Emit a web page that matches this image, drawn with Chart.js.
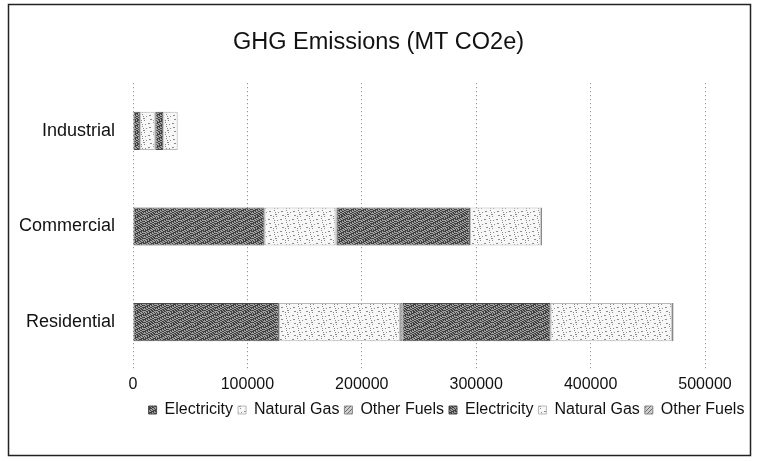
<!DOCTYPE html>
<html>
<head>
<meta charset="utf-8">
<title>GHG Emissions</title>
<script src="https://cdn.jsdelivr.net/npm/chart.js@4/dist/chart.umd.min.js"></script>
<style>
  body { margin: 0; background: #fff; }
  canvas { display: block; }
</style>
</head>
<body>
<canvas id="ghgChart" width="758" height="461"></canvas>
<script>
// Sectors and emissions (MT CO2e), two sets of fuel series
const sectors = ["Industrial", "Commercial", "Residential"];
const seriesNames = ["Electricity", "Natural Gas", "Other Fuels", "Electricity", "Natural Gas", "Other Fuels"];
const electricityA = [6000, 115000, 127500];
const naturalGasA = [13000, 62000, 106000];
const otherFuelsA = [500, 1000, 2000];
const electricityB = [7000, 116500, 129500];
const naturalGasB = [12500, 62000, 106000];
const otherFuelsB = [500, 1000, 1500];
const xTicks = [0, 100000, 200000, 300000, 400000, 500000];

const FONT = "Arial, 'Liberation Sans', sans-serif";

// Build a small textured tile, used as a fill pattern
const makePattern = (base, ink, test) => {
  const size = 12;
  const tile = document.createElement("canvas");
  tile.width = size;
  tile.height = size;
  const tctx = tile.getContext("2d");
  tctx.fillStyle = base;
  tctx.fillRect(0, 0, size, size);
  tctx.fillStyle = ink;
  for (let y = 0; y < size; y++) {
    for (let x = 0; x < size; x++) {
      if (test(x, y)) tctx.fillRect(x, y, 1, 1);
    }
  }
  return tctx.createPattern(tile, "repeat");
};

const darkFill = makePattern("#a0a0a0", "#404040", (x, y) => ((x * 5 + y * 3) % 7) < 3 || ((x + y * 2) % 5) === 0);
const lightFill = makePattern("#f7f7f7", "#8a8a8a", (x, y) => ((x * 7 + y * 11) % 17) === 0 || ((x * 3 + y * 5) % 23) === 4);
const otherFill = makePattern("#d0d0d0", "#6a6a6a", (x, y) => ((x + y) % 4) === 0);

const fills = [darkFill, lightFill, otherFill, darkFill, lightFill, otherFill];
const borders = ["#4a4a4a", "#b8b8b8", "#888", "#4a4a4a", "#b8b8b8", "#888"];
const values = [electricityA, naturalGasA, otherFuelsA, electricityB, naturalGasB, otherFuelsB];

const datasets = seriesNames.map((name, i) => ({
  label: name,
  data: values[i],
  backgroundColor: fills[i],
  borderColor: borders[i],
  borderWidth: 1,
  borderSkipped: false,
  categoryPercentage: 0.8,
  barPercentage: 0.5,
}));

// White background, outer frame, title and legend nudged into place
const framePlugin = {
  id: "frame",
  afterLayout(chart) {
    chart.titleBlock.left += 21;
    chart.titleBlock.right += 21;
    chart.legend.left += 89;
    chart.legend.right += 89;
    chart.legend.top -= 2;
    chart.legend.bottom -= 2;
  },
  beforeDraw(chart) {
    const c = chart.ctx;
    c.save();
    c.fillStyle = "#fff";
    c.fillRect(0, 0, chart.width, chart.height);
    c.restore();
  },
  afterDraw(chart) {
    const c = chart.ctx;
    c.save();
    c.strokeStyle = "#222";
    c.lineWidth = 1.5;
    c.strokeRect(8.5, 4.5, 742, 451);
    c.restore();
  },
};

new Chart(document.getElementById("ghgChart"), {
  type: "bar",
  data: { labels: sectors, datasets: datasets },
  options: {
    responsive: false,
    animation: false,
    indexAxis: "y",
    layout: { padding: { top: 0, right: 53, bottom: 31, left: 10 } },
    plugins: {
      title: {
        display: true,
        text: "GHG Emissions (MT CO2e)",
        color: "#111",
        font: { family: FONT, size: 23.5, weight: "normal" },
        padding: { top: 28, bottom: 27 },
      },
      legend: {
        position: "bottom",
        labels: {
          color: "#111",
          font: { family: FONT, size: 16 },
          boxWidth: 8,
          boxHeight: 8,
          padding: 5,
        },
      },
      tooltip: { enabled: false },
    },
    scales: {
      x: {
        stacked: true,
        min: 0,
        max: 500000,
        afterBuildTicks: (scale) => {
          scale.ticks = xTicks.map((v) => ({ value: v }));
        },
        ticks: {
          color: "#111",
          font: { family: FONT, size: 16 },
          padding: 5,
          maxRotation: 0,
          callback: (v) => String(v),
        },
        grid: {
          color: "rgba(0,0,0,0.5)",
          lineWidth: 1,
          drawTicks: false,
        },
        // dotted vertical grid lines
        border: { display: false, dash: [1, 3] },
      },
      y: {
        stacked: true,
        afterFit: (scale) => {
          scale.width = 123;
        },
        ticks: {
          color: "#111",
          font: { family: FONT, size: 18 },
          padding: 18,
        },
        grid: { display: false, drawTicks: false },
        border: { display: false },
      },
    },
  },
  plugins: [framePlugin],
});
</script>
</body>
</html>
